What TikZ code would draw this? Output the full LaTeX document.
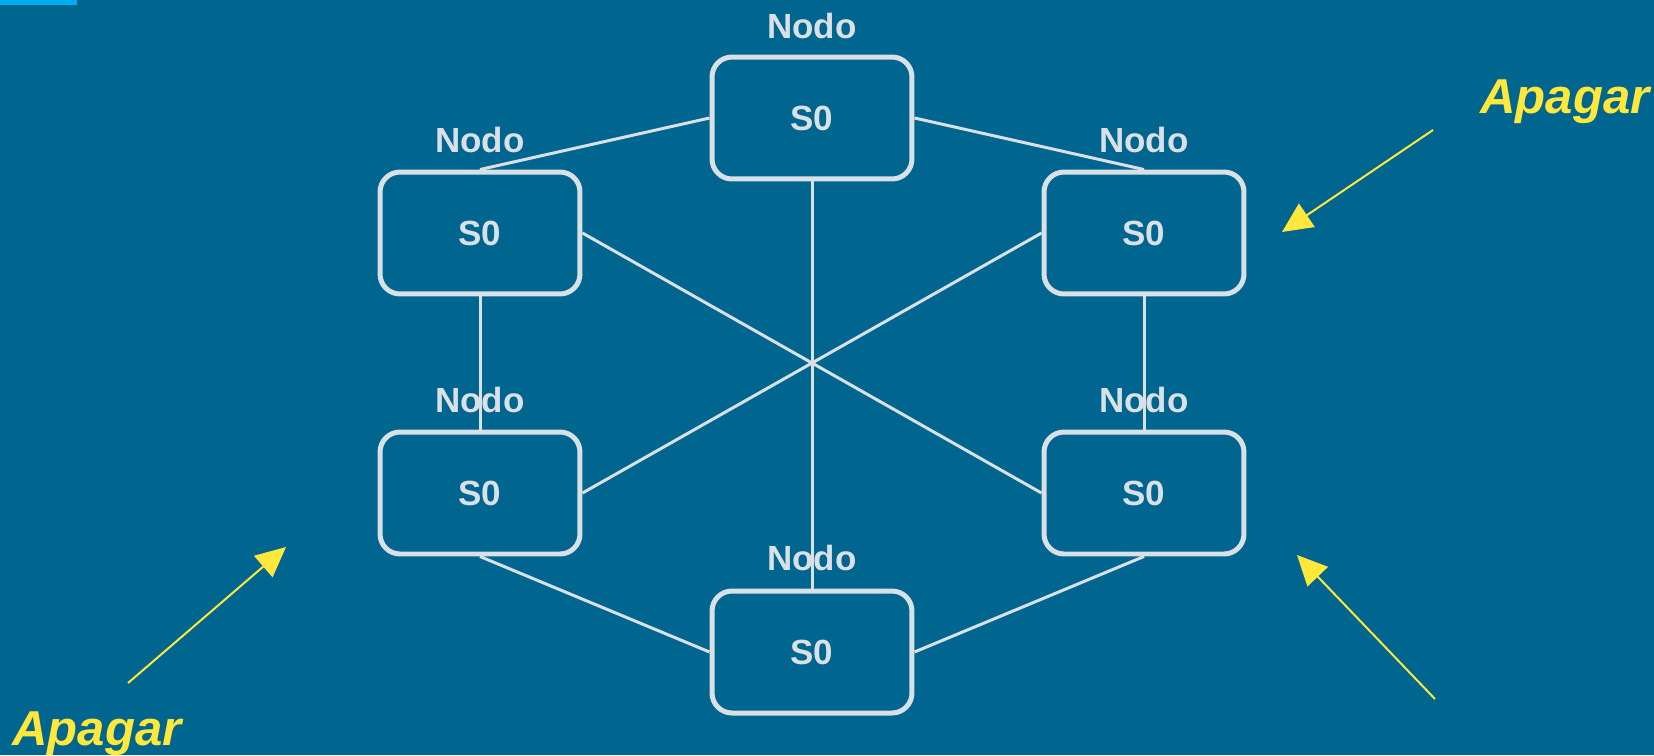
\documentclass[tikz,border=0pt]{standalone}
\usepackage{fontspec}
\setmainfont{Liberation Sans}
\usetikzlibrary{arrows.meta}

\definecolor{bgblue}{RGB}{0,101,143}
\definecolor{tabblue}{RGB}{0,174,239}
\definecolor{lightgrey}{RGB}{217,225,230}
\definecolor{warnyellow}{RGB}{255,232,58}

\tikzset{
	state/.style={draw=lightgrey, line width=0.1cm, rounded corners=0.4cm,
		minimum width=4cm, minimum height=2.44cm, text=lightgrey,
		font=\fontsize{19.9pt}{24pt}\selectfont\bfseries},
	nodolabel/.style={text=lightgrey, inner sep=0pt,
		font=\fontsize{19.9pt}{24pt}\selectfont\bfseries},
	link/.style={draw=lightgrey, line width=0.06cm},
	pointer/.style={draw=warnyellow, line width=0.04cm,
		-{Triangle[length=0.6cm, width=0.56cm]}, fill=warnyellow},
	warnlabel/.style={text=warnyellow, inner sep=0pt,
		font=\fontsize{27.9pt}{32pt}\selectfont\bfseries\itshape}
}

\begin{document}
\begin{tikzpicture}[x=0.02cm, y=-0.02cm]
	\useasboundingbox (0,0) rectangle (1654,755);
	\clip (0,0) rectangle (1654,755);

	% background
	\fill[bgblue] (0,0) rectangle (1654,755);
	\fill[tabblue] (0,0) rectangle (77,5);

	% nodes
	\node[state] (top) at (812,118) {S0};
	\node[state] (ul) at (480,233) {S0};
	\node[state] (ur) at (1144,233) {S0};
	\node[state] (ll) at (480,493) {S0};
	\node[state] (lr) at (1144,493) {S0};
	\node[state] (bot) at (812,652) {S0};

	% links
	\draw[link] (top.west) -- (ul.north);
	\draw[link] (top.east) -- (ur.north);
	\draw[link] (top.south) -- (bot.north);
	\draw[link] (ul.east) -- (lr.west);
	\draw[link] (ur.west) -- (ll.east);
	\draw[link] (ul.south) -- (ll.north);
	\draw[link] (ur.south) -- (lr.north);
	\draw[link] (ll.south) -- (bot.west);
	\draw[link] (lr.south) -- (bot.east);

	% labels
	\node[nodolabel] (topnodo) at (812,26) {Nodo};
	\node[nodolabel] (ulnodo) at (480,140) {Nodo};
	\node[nodolabel] (urnodo) at (1144,140) {Nodo};
	\node[nodolabel] (llnodo) at (480,400) {Nodo};
	\node[nodolabel] (lrnodo) at (1144,400) {Nodo};
	\node[nodolabel] (botnodo) at (812,558) {Nodo};

	% Apagar
	\node[warnlabel, anchor=base] (apagarur) at (1565,113) {Apagar};
	\node[warnlabel, anchor=base] (apagarll) at (97,745) {Apagar};

	\coordinate (urfrom) at (1433,130);
	\coordinate (urtip) at (1282,232);
	\coordinate (llfrom) at (128,683);
	\coordinate (lltip) at (286,547);
	\coordinate (lrfrom) at (1435,699);
	\coordinate (lrtip) at (1297,555);
	\draw[pointer] (urfrom) -- (urtip);
	\draw[pointer] (llfrom) -- (lltip);
	\draw[pointer] (lrfrom) -- (lrtip);

\end{tikzpicture}
\end{document}
